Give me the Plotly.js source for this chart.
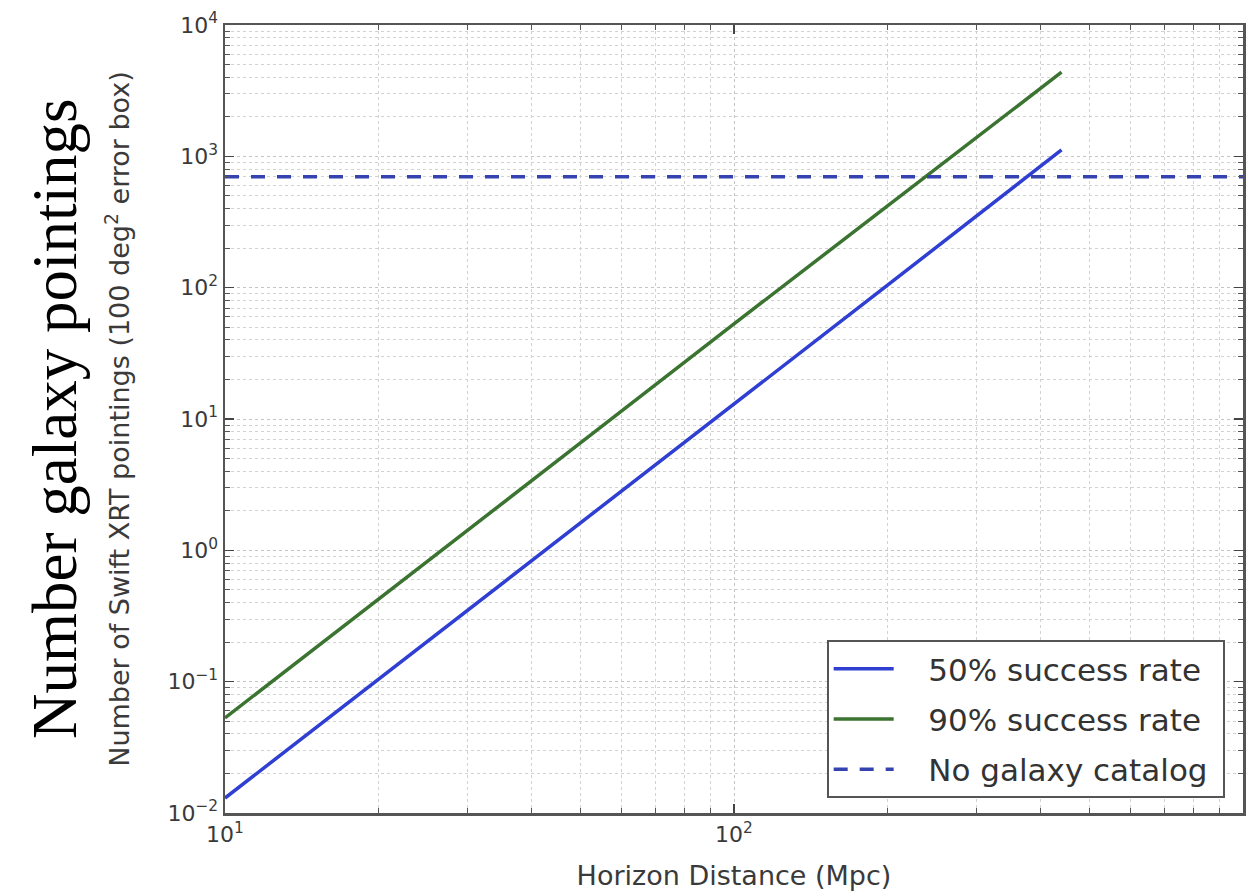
<!DOCTYPE html>
<html>
<head>
<meta charset="utf-8">
<script src="https://cdn.plot.ly/plotly-3.0.1.min.js"></script>
<style>
  html, body { margin: 0; padding: 0; background: #ffffff; }
  #chart { width: 1255px; height: 894px; }
</style>
</head>
<body>
<div id="chart"></div>
<script>
// Horizon distance (Mpc) at which the pointing counts are sampled
const distanceMpc = [10, 20, 50, 100, 200, 440];

// Number of Swift XRT pointings needed with a galaxy catalog
const pointings50 = [0.013, 0.104, 1.6, 13, 104, 1120];
const pointings90 = [0.053, 0.42, 6.6, 53, 420, 4370];

// Tiling the full 100 deg^2 error box without a catalog
const noCatalogDistance = [10, 1000];
const noCatalogPointings = [700, 700];

// Legend labels
const seriesNames = ['50% success rate', '90% success rate', 'No galaxy catalog'];

// Axis decades and their labels
const xTickVals = [10, 100, 1000];
const xTickText = ['10<sup>1</sup>', '10<sup>2</sup>', '10<sup>3</sup>'];
const yTickVals = [0.01, 0.1, 1, 10, 100, 1000, 10000];
const yTickText = ['10<sup>\u22122</sup>', '10<sup>\u22121</sup>', '10<sup>0</sup>',
                   '10<sup>1</sup>', '10<sup>2</sup>', '10<sup>3</sup>', '10<sup>4</sup>'];

// Minor tick positions (2..9 within each decade)
function minorTicks(loExp, hiExp) {
  const out = [];
  for (let e = loExp; e < hiExp; e++) {
    for (let m = 2; m <= 9; m++) out.push(m * Math.pow(10, e));
  }
  return out;
}

const axisFont = { family: 'DejaVu Sans', size: 22, color: '#3a3a3a' };
const lead = '\u00a0\u00a0\u00a0';
const trail = '\u00a0';

const traces = [
  {
    x: distanceMpc, y: pointings50, type: 'scatter', mode: 'lines',
    name: lead + seriesNames[0] + trail, legendgroup: 'g50',
    line: { color: '#2f3fd2', width: 3.5 }
  },
  {
    x: distanceMpc, y: pointings90, type: 'scatter', mode: 'lines',
    name: lead + seriesNames[1] + trail, legendgroup: 'g90',
    line: { color: '#3b7430', width: 3.5 }
  },
  {
    x: noCatalogDistance, y: noCatalogPointings, type: 'scatter', mode: 'lines',
    name: lead + seriesNames[2] + trail, legendgroup: 'gnc',
    line: { color: '#3543b0', width: 3.5, dash: '14px,12px' }
  }
];

const gridStyle = { gridcolor: '#c4c4c4', griddash: 'dot', gridwidth: 1 };

const layout = {
  width: 1255, height: 894,
  margin: { l: 225, r: 12, t: 25, b: 81 },
  paper_bgcolor: '#ffffff', plot_bgcolor: '#ffffff',
  showlegend: true,
  legend: {
    x: 0.982, y: 0.019, xanchor: 'right', yanchor: 'bottom',
    bgcolor: '#ffffff', bordercolor: '#555555', borderwidth: 2,
    font: { family: 'DejaVu Sans', size: 31, color: '#333333' },
    itemwidth: 60, tracegroupgap: 7
  },
  xaxis: {
    type: 'log', range: [1, 3],
    tickmode: 'array', tickvals: xTickVals, ticktext: xTickText,
    tickfont: axisFont,
    ticks: 'inside', ticklen: 9, tickwidth: 1.5, tickcolor: '#444',
    showline: true, linecolor: '#555', linewidth: 2.5, mirror: 'ticks',
    showgrid: true, ...gridStyle,
    zeroline: false,
    minor: {
      tickmode: 'array', tickvals: minorTicks(1, 3),
      ticks: 'inside', ticklen: 5, tickwidth: 1, tickcolor: '#555',
      showgrid: true, gridcolor: '#d2d2d2', griddash: 'dot', gridwidth: 1
    },
    title: {
      text: 'Horizon Distance (Mpc)',
      font: { family: 'DejaVu Sans', size: 27, color: '#3a3a3a' },
      standoff: 20
    }
  },
  yaxis: {
    type: 'log', range: [-2, 4],
    tickmode: 'array', tickvals: yTickVals, ticktext: yTickText,
    tickfont: axisFont,
    ticks: 'inside', ticklen: 9, tickwidth: 1.5, tickcolor: '#444',
    showline: true, linecolor: '#555', linewidth: 2.5, mirror: 'ticks',
    showgrid: true, ...gridStyle,
    zeroline: false,
    minor: {
      tickmode: 'array', tickvals: minorTicks(-2, 4),
      ticks: 'inside', ticklen: 5, tickwidth: 1, tickcolor: '#555',
      showgrid: true, gridcolor: '#d2d2d2', griddash: 'dot', gridwidth: 1
    },
    title: {
      text: 'Number of Swift XRT pointings (100 deg<sup>2</sup> error box)',
      font: { family: 'DejaVu Sans', size: 27, color: '#3a3a3a' },
      standoff: 30
    }
  },
  annotations: [
    {
      text: 'Number galaxy pointings',
      xref: 'paper', yref: 'paper',
      x: -0.167, y: 0.5, xanchor: 'center', yanchor: 'middle',
      textangle: -90, showarrow: false,
      font: { family: 'Liberation Serif', size: 63, color: '#000000' }
    }
  ]
};

Plotly.newPlot('chart', traces, layout, { displayModeBar: false, staticPlot: true });
</script>
</body>
</html>
